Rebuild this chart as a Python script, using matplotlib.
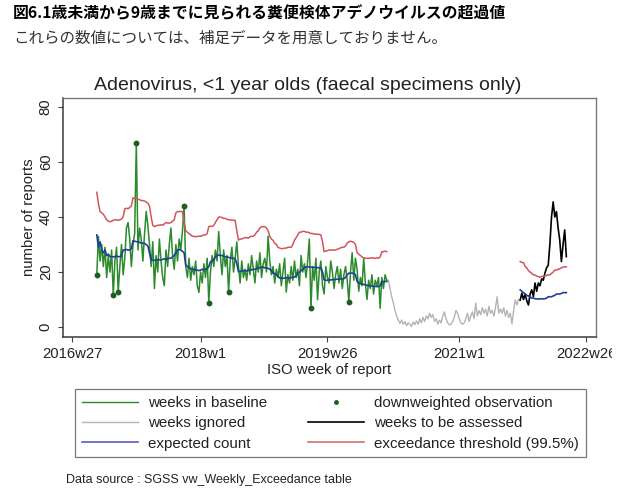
import numpy as np
import matplotlib
matplotlib.use("Agg")
import matplotlib.pyplot as plt
from matplotlib.lines import Line2D
from matplotlib.patches import Rectangle

plt.rcParams['font.family'] = ['Liberation Sans', 'DejaVu Sans']

# ---------------- data (week index: 0 = 2016w27) ----------------
tick_weeks = [0, 78, 155, 235, 312]
tick_labels = ["2016w27", "2018w1", "2019w26", "2021w1", "2022w26"]
y_ticks = [0, 20, 40, 60, 80]

baseline_start = 15
baseline_counts = [
    19, 33, 24, 30, 22, 29, 18, 26, 20, 28, 11.6, 24, 29, 12.8, 22, 30, 19, 25, 36, 38,
    32, 22, 30, 34, 67, 28, 36, 32, 24, 34, 42, 37, 30, 22, 31, 14, 26, 20, 32, 24,
    18, 15, 28, 22, 30, 36, 26, 21, 30, 24, 32, 28, 35, 44, 22, 18, 25, 17, 22, 19,
    24, 15, 12.6, 20, 16, 23, 18, 25, 8.8, 20, 26, 22, 28, 24, 34.7, 26, 19, 28, 22, 26,
    12.8, 24, 29, 20, 25, 31, 22, 16, 24, 18, 21, 17, 23, 19, 26, 21, 16, 24, 20, 27,
    18, 23, 25, 20, 33, 24, 19, 22, 16, 21, 18, 23, 15, 20, 25, 12.7, 19, 16, 22, 17,
    24, 18, 21, 15, 26, 20, 23, 18, 24, 32, 6.8, 22, 17, 25, 9.9, 20, 24, 15, 12, 22,
    18, 16, 24, 20, 14, 19, 22, 16, 21, 14, 19, 22, 17, 9.1, 20, 27, 17, 25, 21, 13,
    18, 15, 25, 16, 10, 17, 14, 19, 12, 17, 15, 18, 6.8, 18, 14, 19, 17,
]
downweighted_weeks = [15, 25, 28, 39, 68, 83, 95, 145, 168]

baseline_expected = [
    33.5, 29, 31, 28, 27, 28, 26, 26.5, 25.6, 25.6, 25.5, 25.6, 25.8, 25.6, 25.6, 25.8,
    28, 28, 28.2, 28, 28, 28.5, 31.4, 31.2, 31, 31, 30.8, 30.5, 30.5, 30.4, 30, 29.5, 27,
    24.4, 24.4, 24.2, 24.4, 24.5, 24.4, 24.4, 24.6, 24.8, 24.6, 24.8, 25, 25, 25.5, 26, 27,
    28, 28.2, 28, 27.5, 27, 22.5, 22, 21.5, 21.2, 21, 21, 20.7, 20.7, 20.5, 20.7, 21, 20.8,
    21, 21.2, 22, 23.7, 24, 24.5, 25.5, 26, 26.2, 26, 26, 25.8, 25.5, 25.5, 25.3, 25.2, 25,
    25, 24.8, 23, 20.1, 20.2, 20.3, 20.5, 20.5, 20.4, 20.6, 20.8, 20.8, 21, 21, 21.2, 21.5,
    21.5, 21.8, 21.8, 21.5, 21.5, 21.3, 21, 20.5, 19.6, 19.4, 19, 18.5, 17.8, 17.8, 17.7,
    17.8, 17.9, 17.8, 17.8, 18, 18, 18.2, 18.5, 19.6, 20, 20.5, 21, 21.5, 21.9, 21.9, 21.8,
    21.8, 21.7, 21.7, 21.6, 21.6, 21.5, 21.5, 20, 17.1, 17, 17, 17.2, 17.1, 17.2, 17.3, 17.3,
    17.4, 17.4, 17.5, 17.5, 17.6, 18, 19, 19.6, 19.6, 19.6, 19.5, 19, 16.5, 16, 15.8, 15.6,
    15.5, 15.3, 15.2, 15, 15, 14.9, 14.8, 14.8, 14.7, 14.7, 15, 16.5, 16.5, 16.6, 16.5,
]

baseline_threshold = [
    49, 45, 42, 41.5, 41, 40, 39, 38.5, 38.3, 38.5, 38.8, 39, 39, 38.8, 39, 39.2, 40, 43,
    43.2, 43, 43.5, 44, 47, 46.8, 47, 46.5, 46.3, 46, 46, 45.8, 45.5, 45, 44, 40, 37, 36.5,
    36.8, 37, 37, 37.2, 37, 37.5, 38, 37.8, 37.8, 38, 38.5, 39, 41.5, 42, 42, 42, 42, 38,
    35, 34.5, 34, 33.5, 33, 33, 32.8, 33, 33, 33, 33.2, 33.5, 33.5, 34, 36.5, 36.7, 36.5,
    37, 38, 39, 40, 40, 39.8, 39.5, 39.5, 39.2, 39, 39, 38.9, 38.8, 38.8, 35, 31.6, 32, 32,
    32.3, 32.5, 32.5, 32.3, 32.8, 33, 33, 33.5, 34.5, 35, 36, 36.5, 36.5, 36.5, 36, 35, 33,
    32, 31.5, 30.5, 30, 29, 28.7, 28.5, 28.5, 28.7, 28.7, 29, 29, 29, 30, 31.6, 32.5, 33.5,
    34.5, 34.5, 34.8, 34.8, 34.5, 34.5, 34.3, 34, 34, 33.8, 33.8, 33.7, 33.7, 33.5, 31, 27.4,
    27.6, 27.8, 28, 28, 28, 28, 28, 28.3, 28.5, 28.8, 29, 29, 29.5, 30.5, 31, 31.2, 31, 30.8,
    30, 27, 26.5, 26, 25.5, 25.2, 25, 25, 25, 25, 25.2, 25, 25, 25.2, 25, 25.5, 27.4, 27.4,
    27.6, 27.4,
]

ignored_start = 191
ignored_counts = [
    17, 17, 14, 11, 8.7, 6, 4, 2.5, 1.3, 2.5, 1, 2, 0.5, 1.5, 1, 0.2, 1.8, 0.8, 2.2, 1,
    3, 1.5, 3.5, 2, 4, 3, 5, 3.5, 4.5, 2, 3, 1, 2.5, 1.5, 4, 5.5, 3, 1.5, 0.8, 1,
    2, 3.5, 6, 5, 3, 1.5, 1, 1.5, 3, 5, 2, 4, 5.5, 3, 8.7, 4, 6, 4.5, 7, 5,
    6.5, 4, 7.5, 5, 6, 4, 7, 11, 5, 6.5, 5, 7, 4, 6, 3.5, 5, 1.2, 6, 9.8, 8,
    10, 9.8,
]

assessed_start = 272
assessed_counts = [
    9.8, 12.3, 10, 12, 9.5, 8, 12, 13.5, 11, 16, 13, 16, 15, 17.5, 17, 19.6, 21.5, 22.5,
    30, 40, 45.5, 40, 42, 36, 31.6, 23.8, 30, 35.3, 25.6,
]
assessed_expected = [
    13.5, 13, 12.5, 12, 11.5, 11.3, 11, 10.5, 10.5, 10.3, 10.2, 10.2, 10.2, 10.3, 10.2,
    10.3, 10.5, 11, 11, 11, 11.3, 11.5, 12, 12, 12, 12.2, 12.5, 12.5, 12.5,
]
assessed_threshold = [
    23.8, 23.5, 23.4, 22, 21.5, 20.5, 20, 19.5, 19, 18.9, 18.5, 18.3, 18.2, 18.3, 18.5,
    18.5, 18.8, 18.9, 19, 19.5, 20, 20.7, 20.7, 21, 21.2, 21.5, 21.8, 21.9, 21.9,
]

# ---------------- styles ----------------
GREEN = '#2b8a2b'
DOTC = '#1f5e1f'
GRAY = '#b4b4b4'
BLUE = '#1f3f99'
RED = '#d2555a'
LEG_BLUE = '#5a5acf'
LEG_RED = '#d87070'

W, H = 630, 501
fig = plt.figure(figsize=(W / 100, H / 100), dpi=100)

ax = fig.add_axes([63 / W, 1 - 337 / H, (596 - 63) / W, (337 - 98) / H])

def wk(start, vals):
    return np.arange(start, start + len(vals))

xb = wk(baseline_start, baseline_counts)
ax.plot(wk(ignored_start, ignored_counts), ignored_counts, color=GRAY, lw=1.0, zorder=2)
ax.plot(xb, baseline_counts, color=GREEN, lw=1.1, zorder=3)
ax.plot(wk(baseline_start, baseline_expected), baseline_expected, color=BLUE, lw=1.2, zorder=4)
ax.plot(wk(baseline_start, baseline_threshold), baseline_threshold, color=RED, lw=1.1, zorder=4)
ax.plot(wk(assessed_start, assessed_counts), assessed_counts, color='black', lw=1.2, zorder=3)
ax.plot(wk(assessed_start, assessed_expected), assessed_expected, color=BLUE, lw=1.2, zorder=4)
ax.plot(wk(assessed_start, assessed_threshold), assessed_threshold, color=RED, lw=1.1, zorder=4)

bc = dict(zip(xb.tolist(), baseline_counts))
ax.plot(downweighted_weeks, [bc[w] for w in downweighted_weeks], 'o', color=DOTC,
        ms=3.2, zorder=5)

ax.set_xlim(-5.5, 318)
ax.set_ylim(-3.64, 83.3)
ax.set_xticks(tick_weeks)
ax.set_xticklabels(tick_labels)
ax.set_yticks(y_ticks)
ax.tick_params(axis='both', labelsize=10.7, length=3.3, width=0.8, color='#444444',
               labelcolor='#222222')
ax.tick_params(axis='x', pad=4)
ax.tick_params(axis='y', pad=4)
for lab in ax.get_yticklabels():
    lab.set_rotation(90)
    lab.set_va('center')

for side in ['left', 'bottom']:
    ax.spines[side].set_color('#3a3a3a')
    ax.spines[side].set_linewidth(1.1)
for side in ['top', 'right']:
    ax.spines[side].set_color('#7a7a7a')
    ax.spines[side].set_linewidth(1.0)

ax.set_xlabel('ISO week of report', fontsize=10.7, labelpad=1, color='#222222')
ax.set_ylabel('number of reports', fontsize=10.7, labelpad=2, color='#222222')

fig.text(308 / W, 1 - 85 / H, 'Adenovirus, <1 year olds (faecal specimens only)',
         ha='center', va='center', fontsize=14, color='#222222')

fig.text(13 / W, 1 - 13 / H, '図6.1歳未満から9歳までに見られる糞便検体アデノウイルスの超過値',
         ha='left', va='center', fontsize=11.4, fontweight='bold', color='black',
         family=['Noto Sans CJK JP', 'DejaVu Sans'])
fig.text(13 / W, 1 - 38 / H, 'これらの数値については、補足データを用意しておりません。',
         ha='left', va='center', fontsize=11.2, color='#333333',
         family=['Noto Sans CJK JP', 'DejaVu Sans'])

handles = [
    Line2D([], [], color=GREEN, lw=1.0),
    Line2D([], [], color=GRAY, lw=1.0),
    Line2D([], [], color=LEG_BLUE, lw=1.2),
    Line2D([], [], color=DOTC, marker='o', ls='none', ms=2.5),
    Line2D([], [], color='black', lw=1.2),
    Line2D([], [], color=LEG_RED, lw=1.2),
]
labels = ['weeks in baseline', 'weeks ignored', 'expected count',
          'downweighted observation', 'weeks to be assessed', 'exceedance threshold (99.5%)']
leg = fig.legend(handles, labels, ncol=2, loc='upper left',
                 bbox_to_anchor=(75 / W, 1 - 465 / H, (586 - 75) / W, (465 - 389) / H),
                 mode='expand', fontsize=10.9, frameon=True, fancybox=False,
                 edgecolor='#555555', handlelength=3.7, handletextpad=0.65,
                 labelspacing=0.42, borderpad=0.45, borderaxespad=0, columnspacing=1.0)
leg.get_frame().set_linewidth(0.9)
for t in leg.get_texts():
    t.set_color('#222222')

fig.text(66 / W, 1 - 480 / H, 'Data source : SGSS vw_Weekly_Exceedance table',
         ha='left', va='center', fontsize=9, color='#222222')

# the reference picture is cropped at its right side
fig.add_artist(Rectangle((612 / W, 0), 1 - 612 / W, 1, transform=fig.transFigure,
                         facecolor='white', edgecolor='none', zorder=20))

fig.savefig('out.png', dpi=100, facecolor='white')
